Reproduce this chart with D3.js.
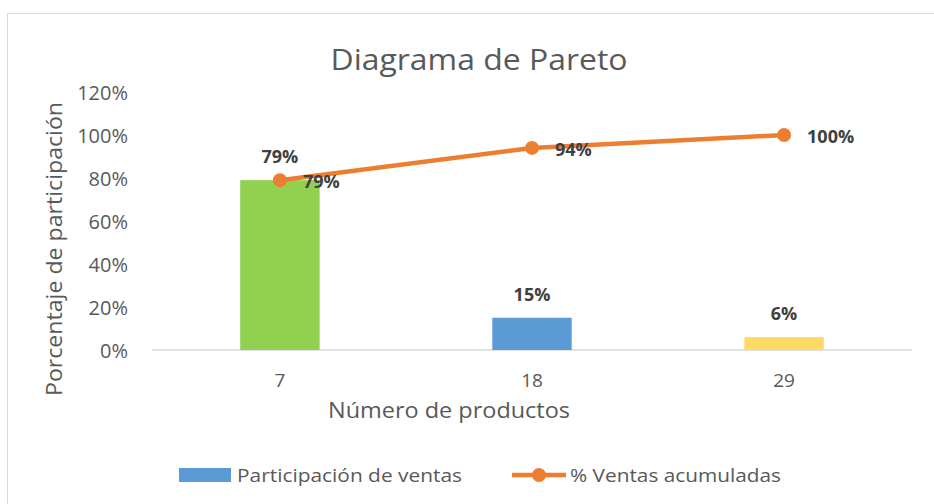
<!DOCTYPE html>
<html>
<head>
<meta charset="utf-8">
<script src="https://cdn.jsdelivr.net/npm/d3@7"></script>
<style>
  body { margin: 0; background: #fff; }
  text { font-family: "Open Sans", sans-serif; }
</style>
</head>
<body>
<svg id="chart" width="934" height="504"></svg>
<script>
// DATA
var categories = ["7", "18", "29"];
var salesShare = [0.79, 0.15, 0.06];      // Participación de ventas
var cumulative = [0.79, 0.94, 1.00];      // % Ventas acumuladas
var yTicks = [0, 0.2, 0.4, 0.6, 0.8, 1.0, 1.2];
var barColors = ["#92D050", "#5B9BD5", "#FFD966"];

// COLORS
var lineColor = "#ED7D31";
var textColor = "#595959";
var labelColor = "#404040";

var svg = d3.select("#chart");

// chart frame
svg.append("rect")
  .attr("x", 7.5).attr("y", 13.5)
  .attr("width", 940).attr("height", 500)
  .attr("fill", "#fff")
  .attr("stroke", "#d9d9d9");

// plot area (careful: "top" is taken by window)
var plotLeft = 152, plotRight = 912, plotTop = 92, plotBottom = 350;

var x = d3.scaleBand().domain(categories).range([plotLeft, plotRight]).paddingInner(0.685).paddingOuter(0.35);
var y = d3.scaleLinear().domain([0, 1.2]).range([plotBottom, plotTop]);

// title
svg.append("text")
  .attr("x", 479).attr("y", 70)
  .attr("text-anchor", "middle")
  .attr("font-size", 30)
  .attr("fill", textColor)
  .attr("textLength", 297).attr("lengthAdjust", "spacingAndGlyphs")
  .text("Diagrama de Pareto");

// y axis labels
var yAxis = d3.axisLeft(y).tickValues(yTicks).tickFormat(d3.format(".0%")).tickSize(0).tickPadding(24);
var gy = svg.append("g").attr("transform", "translate(" + plotLeft + ",0)").call(yAxis);
gy.select(".domain").remove();
gy.selectAll("text")
  .attr("font-size", 20)
  .attr("fill", textColor)
  .attr("font-family", "Open Sans")
  .attr("dy", "0.36em");

// x axis
var xAxis = d3.axisBottom(x).tickSize(0).tickPadding(24);
var gx = svg.append("g").attr("transform", "translate(0," + plotBottom + ")").call(xAxis);
gx.select(".domain").attr("stroke", "#d9d9d9").attr("stroke-width", 1.5)
  .attr("d", "M" + plotLeft + ",0H" + plotRight);
gx.selectAll("text")
  .attr("font-size", 19)
  .attr("fill", textColor)
  .attr("font-family", "Open Sans");

// axis titles
svg.append("text")
  .attr("transform", "translate(62,249) rotate(-90)")
  .attr("text-anchor", "middle")
  .attr("font-size", 21)
  .attr("fill", textColor)
  .attr("textLength", 294).attr("lengthAdjust", "spacingAndGlyphs")
  .text("Porcentaje de participación");

svg.append("text")
  .attr("x", 449).attr("y", 418)
  .attr("text-anchor", "middle")
  .attr("font-size", 21)
  .attr("fill", textColor)
  .attr("textLength", 242).attr("lengthAdjust", "spacingAndGlyphs")
  .text("Número de productos");

// bars
svg.selectAll("rect.bar")
  .data(salesShare)
  .enter()
  .append("rect")
  .attr("class", "bar")
  .attr("x", (d, i) => x(categories[i]))
  .attr("width", x.bandwidth())
  .attr("y", d => y(d))
  .attr("height", d => plotBottom - y(d))
  .attr("fill", (d, i) => barColors[i]);

// bar labels
svg.selectAll("text.barlabel")
  .data(salesShare)
  .enter()
  .append("text")
  .attr("class", "barlabel")
  .attr("x", (d, i) => x(categories[i]) + x.bandwidth() / 2)
  .attr("y", d => y(d) - 17)
  .attr("text-anchor", "middle")
  .attr("font-size", 18)
  .attr("font-weight", "bold")
  .attr("fill", labelColor)
  .text(d => d3.format(".0%")(d));

// cumulative line
var cx = (d, i) => x(categories[i]) + x.bandwidth() / 2;
var line = d3.line().x(cx).y(d => y(d));
svg.append("path")
  .datum(cumulative)
  .attr("d", line)
  .attr("fill", "none")
  .attr("stroke", lineColor)
  .attr("stroke-width", 4.5)
  .attr("stroke-linejoin", "round");

svg.selectAll("circle.pt")
  .data(cumulative)
  .enter()
  .append("circle")
  .attr("class", "pt")
  .attr("cx", cx)
  .attr("cy", d => y(d))
  .attr("r", 7)
  .attr("fill", lineColor);

svg.selectAll("text.linelabel")
  .data(cumulative)
  .enter()
  .append("text")
  .attr("class", "linelabel")
  .attr("x", (d, i) => cx(d, i) + 23)
  .attr("y", d => y(d) + 8)
  .attr("font-size", 18)
  .attr("font-weight", "bold")
  .attr("fill", labelColor)
  .text(d => d3.format(".0%")(d));

// legend
var legend = svg.append("g");
legend.append("rect")
  .attr("x", 179).attr("y", 468)
  .attr("width", 52).attr("height", 14)
  .attr("fill", barColors[1]);
legend.append("text")
  .attr("x", 237).attr("y", 482)
  .attr("font-size", 19)
  .attr("fill", textColor)
  .attr("textLength", 225).attr("lengthAdjust", "spacingAndGlyphs")
  .text("Participación de ventas");
legend.append("line")
  .attr("x1", 512).attr("x2", 566)
  .attr("y1", 475).attr("y2", 475)
  .attr("stroke", lineColor)
  .attr("stroke-width", 4.5);
legend.append("circle")
  .attr("cx", 539).attr("cy", 475).attr("r", 7)
  .attr("fill", lineColor);
legend.append("text")
  .attr("x", 570).attr("y", 482)
  .attr("font-size", 19)
  .attr("fill", textColor)
  .attr("textLength", 211).attr("lengthAdjust", "spacingAndGlyphs")
  .text("% Ventas acumuladas");
</script>
</body>
</html>
